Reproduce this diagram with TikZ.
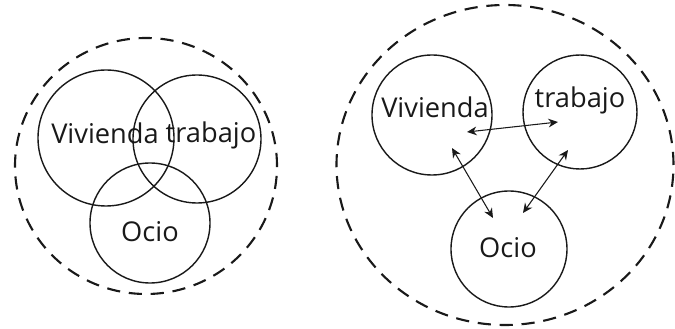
\documentclass[tikz,border=0pt]{standalone}
\usepackage{fontspec}
\setmainfont{Open Sans}
\usepackage{xcolor}
\definecolor{inkblack}{RGB}{25,25,25}
\usetikzlibrary{arrows.meta, positioning, calc}
\tikzset{
  areacircle/.style={circle, draw=inkblack, line width=0.8pt, inner sep=0pt},
  areaname/.style={font=\fontsize{15.5}{18}\selectfont, inkblack, inner sep=1pt},
  boundary/.style={draw=inkblack, line width=1.2pt, dash pattern=on 7.5pt off 5pt},
  link/.style={inkblack, line width=0.6pt, {Stealth[length=5.5pt,width=5pt]}-{Stealth[length=5.5pt,width=5pt]}}
}

\begin{document}
\begin{tikzpicture}
  \useasboundingbox (0,0) rectangle (13.5,6.58);

  % --- Left: overlapping areas ---
  \draw[boundary] (2.92,3.26) ellipse (2.62 and 2.56);
  \node[areacircle, minimum size=2.72cm] (vivL) at (2.12,3.82) {};
  \node[areacircle, minimum size=2.56cm] (trabL) at (3.94,3.80) {};
  \node[areacircle, minimum size=2.40cm] (ocioL) at (3.00,2.12) {};
  \node[areaname] (vivLtext) at (2.10,3.92) {Vivienda};
  \node[areaname] (trabLtext) at (4.22,3.88) {trabajo};
  \node[areaname] (ocioLtext) at (3.00,1.94) {Ocio};

  % --- Right: separate areas linked ---
  \draw[boundary] (10.1,3.28) ellipse (3.37 and 3.2);
  \node[areacircle, minimum size=2.40cm] (vivR) at (8.64,4.28) {};
  \node[areacircle, minimum size=2.28cm] (trabR) at (11.6,4.34) {};
  \node[areacircle, minimum size=2.32cm] (ocioR) at (10.18,1.60) {};
  \node[areaname] (vivRtext) at (8.70,4.44) {Vivienda};
  \node[areaname] (trabRtext) at (11.6,4.58) {trabajo};
  \node[areaname] (ocioRtext) at (10.16,1.62) {Ocio};
  % Link ends
  \coordinate (vivRa) at (9.34,3.94);
  \coordinate (trabRa) at (11.16,4.14);
  \coordinate (vivRb) at (9.04,3.62);
  \coordinate (ocioRa) at (9.86,2.22);
  \coordinate (trabRb) at (11.36,3.58);
  \coordinate (ocioRb) at (10.46,2.32);
  \draw[link] (vivRa) -- (trabRa);
  \draw[link] (vivRb) -- (ocioRa);
  \draw[link] (trabRb) -- (ocioRb);
\end{tikzpicture}
\end{document}
